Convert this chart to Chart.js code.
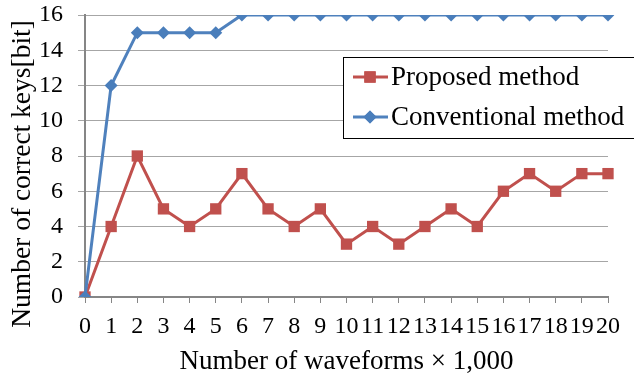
<!DOCTYPE html>
<html>
<head>
<meta charset="utf-8">
<script src="https://cdn.jsdelivr.net/npm/chart.js@4/dist/chart.umd.min.js"></script>
<style>
  body { margin: 0; background: #fff; }
  #wrap { width: 634px; height: 378px; }
</style>
</head>
<body>
<div id="wrap"><canvas id="chart" width="634" height="378"></canvas></div>
<script>
const waveforms = ["0","1","2","3","4","5","6","7","8","9","10","11","12","13","14","15","16","17","18","19","20"];
const proposed = [0, 4, 8, 5, 4, 5, 7, 5, 4, 5, 3, 4, 3, 4, 5, 4, 6, 7, 6, 7, 7];
const conventional = [0, 12, 15, 15, 15, 15, 16, 16, 16, 16, 16, 16, 16, 16, 16, 16, 16, 16, 16, 16, 16];
const seriesNames = ["Proposed method", "Conventional method"];
const yTitle = "Number of correct keys[bit]";
const xTitle = "Number of waveforms \u00d7 1,000";

const serif = "'Liberation Serif', 'Times New Roman', serif";
const red = "#C0504D";
const blue = "#4A7EBB";

// y title and legend box drawn by hand, the legend sits inside the plot
const extras = {
  id: "extras",
  afterDraw(chart) {
    const ctx = chart.ctx;
    ctx.save();
    ctx.fillStyle = "#000";
    ctx.font = "27.5px " + serif;
    ctx.textAlign = "center";
    ctx.textBaseline = "middle";
    ctx.translate(23, 174);
    ctx.rotate(-Math.PI / 2);
    ctx.fillText(yTitle, 0, 0);
    ctx.restore();

    ctx.save();
    ctx.fillStyle = "#fff";
    ctx.strokeStyle = "#000";
    ctx.lineWidth = 1;
    ctx.fillRect(343.5, 57.5, 300, 81);
    ctx.strokeRect(343.5, 57.5, 300, 81);
    chart.data.datasets.forEach((ds, i) => {
      const y = 77 + i * 40;
      ctx.strokeStyle = ds.borderColor;
      ctx.lineWidth = ds.borderWidth;
      ctx.beginPath();
      ctx.moveTo(353, y);
      ctx.lineTo(388, y);
      ctx.stroke();
      ctx.fillStyle = ds.pointBackgroundColor;
      Chart.helpers.drawPoint(ctx, { pointStyle: ds.pointStyle, radius: ds.pointRadius, borderWidth: 0 }, 370, y);
      ctx.fill();
      ctx.fillStyle = "#000";
      ctx.font = "27px " + serif;
      ctx.textAlign = "left";
      ctx.textBaseline = "middle";
      ctx.fillText(ds.label, 391, y + 1);
    });
    ctx.restore();
  }
};

new Chart(document.getElementById("chart"), {
  type: "line",
  data: {
    labels: waveforms,
    datasets: [
      {
        label: seriesNames[0],
        data: proposed,
        borderColor: red,
        backgroundColor: red,
        pointBackgroundColor: red,
        pointBorderColor: red,
        borderWidth: 3,
        pointStyle: "rect",
        pointRadius: 8,
        pointBorderWidth: 0,
        tension: 0,
        order: 2
      },
      {
        label: seriesNames[1],
        data: conventional,
        borderColor: "#4F81BD",
        backgroundColor: blue,
        pointBackgroundColor: blue,
        pointBorderColor: blue,
        borderWidth: 3,
        pointStyle: "rectRot",
        pointRadius: 6.5,
        pointBorderWidth: 0,
        tension: 0,
        order: 1
      }
    ]
  },
  options: {
    responsive: false,
    animation: false,
    layout: { padding: { top: 0, right: 26, left: 0, bottom: 0 } },
    plugins: {
      legend: { display: false },
      tooltip: { enabled: false }
    },
    scales: {
      x: {
        type: "category",
        offset: false,
        afterFit: (s) => { s.height = 81; },
        grid: { drawOnChartArea: false, drawTicks: true, tickLength: 6, color: "#868686", lineWidth: 1 },
        border: { color: "#868686", width: 2 },
        ticks: {
          autoSkip: false, maxRotation: 0, minRotation: 0, padding: 9,
          color: "#000", font: { family: serif, size: 24 }
        },
        title: {
          display: true, text: xTitle, color: "#000",
          font: { family: serif, size: 27 }, padding: { top: 0, bottom: 0 }
        }
      },
      y: {
        min: 0,
        max: 16,
        afterFit: (s) => { s.width = 85; s.paddingTop = 15; s.paddingBottom = 0; },
        grid: { color: "#a6a6a6", lineWidth: 1, tickLength: 7 },
        border: { color: "#868686", width: 2 },
        ticks: {
          stepSize: 2, padding: 15,
          color: "#000", font: { family: serif, size: 24 }
        }
      }
    }
  },
  plugins: [extras]
});
</script>
</body>
</html>
